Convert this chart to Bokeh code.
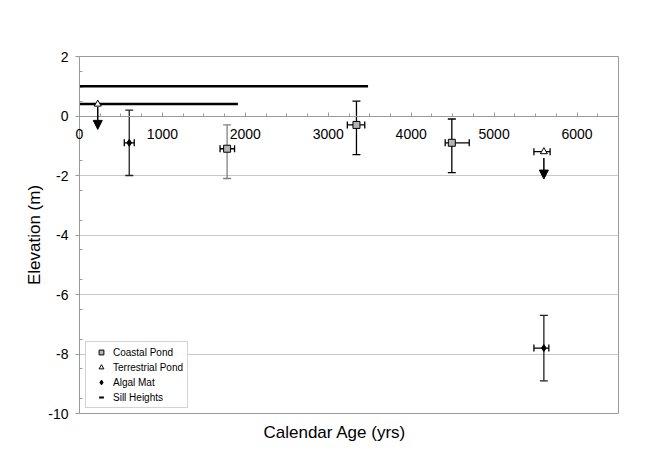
from bokeh.plotting import figure
from bokeh.models import (ColumnDataSource, Whisker, TeeHead, Arrow, NormalHead, Legend, LegendItem,
                          FixedTicker, Range1d, Label, Title)
from bokeh.embed import file_html
from bokeh.resources import INLINE

# ---- data ----
coastal_age = [1780, 3340, 4490]
coastal_elev = [-1.1, -0.3, -0.9]
coastal_age_lo = [1695, 3230, 4410]
coastal_age_hi = [1870, 3440, 4700]
coastal_elev_lo = [-2.1, -1.3, -1.9]
coastal_elev_hi = [-0.3, 0.5, -0.1]
coastal_bar_color = ["#808080", "#000000", "#000000"]

terr_age = [220, 5600]
terr_elev = [0.4, -1.2]
terr_err_age = [5600]
terr_err_elev = [-1.2]
terr_err_age_lo = [5480]
terr_err_age_hi = [5675]

algal_age = [600, 5600]
algal_elev = [-0.9, -7.8]
algal_age_lo = [540, 5480]
algal_age_hi = [660, 5660]
algal_elev_lo = [-2.0, -8.9]
algal_elev_hi = [0.2, -6.7]

sill_age_start = [0, 0]
sill_age_end = [3480, 1910]
sill_elev = [1.0, 0.4]

arrow_age = [220, 5600]
arrow_from = [0.31, -1.41]
arrow_to = [-0.45, -2.12]

x_major = [0, 1000, 2000, 3000, 4000, 5000, 6000]
x_labels = ["0", "1000", "2000", "3000", "4000", "5000", "6000"]
y_major = [-10, -8, -6, -4, -2, 0, 2]
y_labels = ["-10", "-8", "-6", "-4", "-2", "0", "2"]
y_minor = [-9.5, -8.5, -7.5, -6.5, -5.5, -4.5, -3.5, -2.5, -1.5, -0.5, 0.5, 1.5]

FONT = "Liberation Sans"
GREY = "#9a9a9a"

p = figure(frame_width=539, frame_height=357, output_backend="svg", toolbar_location=None,
           x_range=Range1d(0, 6500), y_range=Range1d(-10, 2),
           min_border_left=79, min_border_top=56, min_border_right=40, min_border_bottom=8,
           outline_line_color=GREY, outline_line_width=1, background_fill_color="white",
           border_fill_color="white")

# x axis sitting at y = 0
xa = p.xaxis[0]
xa.fixed_location = 0
xa.ticker = FixedTicker(ticks=x_major, minor_ticks=[t + d for t in x_major for d in (250, 500, 750)])
xa.major_label_overrides = {x_major[0]: ""}
xa.axis_line_color = GREY
xa.major_tick_line_color = GREY
xa.minor_tick_line_color = GREY
xa.major_tick_in = 4
xa.major_tick_out = 0
xa.minor_tick_in = 3
xa.minor_tick_out = 0
xa.major_label_standoff = 13
xa.major_label_text_font = FONT
xa.major_label_text_font_size = "14px"
xa.major_label_text_color = "black"

# x-axis title
p.add_layout(Title(text="Calendar Age (yrs)", align="left", offset=184, standoff=15,
                   text_font=FONT, text_font_size="17px", text_font_style="normal",
                   text_color="black"), "below")

# the "0" label at the corner, placed in a side panel so it is not clipped by the frame
p.add_layout(Label(x=x_major[0], y=0, text=x_labels[0], text_align="center", text_baseline="top",
                   y_offset=-13, text_font=FONT, text_font_size="14px", text_color="black"), "below")

ya = p.yaxis[0]
ya.ticker = FixedTicker(ticks=y_major, minor_ticks=y_minor)
ya.major_label_overrides = dict(zip(y_major, y_labels))
ya.axis_label = "Elevation (m)"
ya.axis_label_text_font = FONT
ya.axis_label_text_font_size = "17px"
ya.axis_label_text_font_style = "normal"
ya.axis_label_text_color = "black"
ya.axis_label_standoff = 1
ya.axis_line_color = GREY
ya.major_tick_line_color = GREY
ya.minor_tick_line_color = GREY
ya.major_tick_out = 4
ya.major_tick_in = 0
ya.minor_tick_in = 3
ya.minor_tick_out = 0
ya.major_label_standoff = 7
ya.major_label_text_font = FONT
ya.major_label_text_font_size = "14px"
ya.major_label_text_color = "black"

p.xgrid.visible = False
p.ygrid.ticker = FixedTicker(ticks=y_major)
p.ygrid.grid_line_color = "#c8c8c8"

# sill heights
sill_src = ColumnDataSource(dict(x0=sill_age_start, x1=sill_age_end, y=sill_elev))
p.segment(x0="x0", y0="y", x1="x1", y1="y", source=sill_src, line_color="black", line_width=2.5)

# error bars
c_src = ColumnDataSource(dict(x=coastal_age, y=coastal_elev, xlo=coastal_age_lo, xhi=coastal_age_hi,
                              ylo=coastal_elev_lo, yhi=coastal_elev_hi, col=coastal_bar_color))
p.add_layout(Whisker(source=c_src, base="x", lower="ylo", upper="yhi", dimension="height",
                     line_color="col", line_width=1.3,
                     lower_head=TeeHead(size=8, line_color="col", line_width=1.3),
                     upper_head=TeeHead(size=8, line_color="col", line_width=1.3)))
p.add_layout(Whisker(source=c_src, base="y", lower="xlo", upper="xhi", dimension="width",
                     line_color="black", line_width=1.3,
                     lower_head=TeeHead(size=7, line_color="black", line_width=1.3),
                     upper_head=TeeHead(size=7, line_color="black", line_width=1.3)))

a_src = ColumnDataSource(dict(x=algal_age, y=algal_elev, xlo=algal_age_lo, xhi=algal_age_hi,
                              ylo=algal_elev_lo, yhi=algal_elev_hi))
p.add_layout(Whisker(source=a_src, base="x", lower="ylo", upper="yhi", dimension="height",
                     line_color="#222222", line_width=1.3,
                     lower_head=TeeHead(size=8, line_color="#222222", line_width=1.3),
                     upper_head=TeeHead(size=8, line_color="#222222", line_width=1.3)))
p.add_layout(Whisker(source=a_src, base="y", lower="xlo", upper="xhi", dimension="width",
                     line_color="black", line_width=1.3,
                     lower_head=TeeHead(size=7, line_color="black", line_width=1.3),
                     upper_head=TeeHead(size=7, line_color="black", line_width=1.3)))

t_err_src = ColumnDataSource(dict(x=terr_err_age, y=terr_err_elev, xlo=terr_err_age_lo, xhi=terr_err_age_hi))
p.add_layout(Whisker(source=t_err_src, base="y", lower="xlo", upper="xhi", dimension="width",
                     line_color="black", line_width=1.3,
                     lower_head=TeeHead(size=7, line_color="black", line_width=1.3),
                     upper_head=TeeHead(size=7, line_color="black", line_width=1.3)))

# arrows (upper limits)
arr_src = ColumnDataSource(dict(x=arrow_age, y0=arrow_from, y1=arrow_to))
p.add_layout(Arrow(source=arr_src, x_start="x", y_start="y0", x_end="x", y_end="y1",
                   line_color="black", line_width=1.5,
                   end=NormalHead(size=9, fill_color="black", line_color="black")))

# markers
r_c = p.scatter(coastal_age, coastal_elev, marker="square", size=7, fill_color="#b4b4b4",
                line_color="black", line_width=1)
r_t = p.scatter(terr_age, terr_elev, marker="triangle", size=7, fill_color="white",
                line_color="black", line_width=1)
r_a = p.scatter(algal_age, algal_elev, marker="diamond", size=7, fill_color="black",
                line_color="black", line_width=1)
# legend marker for the sill heights, sitting on the sill lines' start (hidden under them)
r_s = p.scatter(x="x0", y="y", source=sill_src, marker="dash", size=6, line_color="black",
                line_width=2)

legend = Legend(items=[LegendItem(label="Coastal Pond", renderers=[r_c]),
                       LegendItem(label="Terrestrial Pond", renderers=[r_t]),
                       LegendItem(label="Algal Mat", renderers=[r_a]),
                       LegendItem(label="Sill Heights", renderers=[r_s])],
                location=(6, 5), padding=4, spacing=3, glyph_width=22, glyph_height=12,
                label_height=12, label_standoff=1, label_text_font=FONT,
                label_text_font_size="10px", label_text_color="black",
                border_line_color="#a8a8a8",
                background_fill_color="white", background_fill_alpha=1, margin=0)
p.add_layout(legend, "center")

open("out.html", "w").write(file_html(p, INLINE))
